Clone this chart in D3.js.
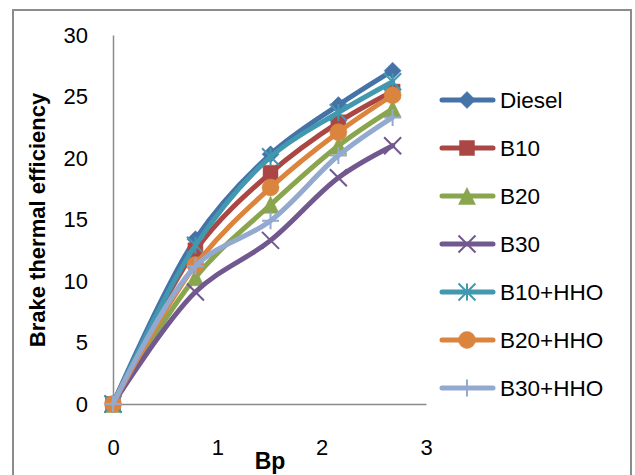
<!DOCTYPE html>
<html>
<head>
<meta charset="utf-8">
<script src="https://cdn.jsdelivr.net/npm/d3@7"></script>
<style>
  body { margin: 0; background: #fff; }
  svg { display: block; font-family: "Liberation Sans", Arial, sans-serif; }
  .axis .domain { stroke: #8a8a8a; stroke-width: 1.5; }
  .axis text { font-size: 22px; fill: #000; }
</style>
</head>
<body>
<div id="chart"></div>
<script>
// Brake thermal efficiency vs brake power, one series per fuel blend

var bp = [0, 0.79, 1.51, 2.16, 2.68];

var seriesNames = ["Diesel", "B10", "B20", "B30", "B10+HHO", "B20+HHO", "B30+HHO"];

var diesel  = [0, 13.4, 20.3, 24.3, 27.1];
var b10     = [0, 12.5, 18.8, 22.9, 25.4];
var b20     = [0, 10.3, 16.2, 21.0, 24.0];
var b30     = [0, 9.1, 13.3, 18.4, 21.0];
var b10hho  = [0, 12.9, 20.1, 23.7, 26.2];
var b20hho  = [0, 11.3, 17.6, 22.1, 25.1];
var b30hho  = [0, 11.2, 14.9, 20.2, 23.3];

var xTicks = [0, 1, 2, 3];
var yTicks = [0, 5, 10, 15, 20, 25, 30];

var allValues = [diesel, b10, b20, b30, b10hho, b20hho, b30hho];
var colors = ["#4572a7", "#aa4643", "#89a54e", "#71588f", "#4198af", "#db843d", "#93a9cf"];
var shapes = ["diamond", "square", "triangle", "x", "star", "circle", "plus"];

var width = 635, height = 475;

var svg = d3.select("#chart")
  .append("svg")
  .attr("width", width)
  .attr("height", height);

svg.append("rect")
  .attr("width", width)
  .attr("height", height)
  .attr("fill", "#fff");

// outer chart frame (runs off the bottom)
svg.append("rect")
  .attr("x", 13)
  .attr("y", 10)
  .attr("width", 618)
  .attr("height", 520)
  .attr("fill", "none")
  .attr("stroke", "#8c8c8c")
  .attr("stroke-width", 2);

var x = d3.scaleLinear().domain([0, 3]).range([113, 426]);
var y = d3.scaleLinear().domain([0, 30]).range([404, 35]);

svg.append("g")
  .attr("class", "axis")
  .attr("transform", "translate(0," + y(0) + ")")
  .call(d3.axisBottom(x).tickValues(xTicks).tickSize(0).tickPadding(35).tickFormat(d3.format("d")));

svg.append("g")
  .attr("class", "axis")
  .attr("transform", "translate(" + x(0) + ",0)")
  .call(d3.axisLeft(y).tickValues(yTicks).tickSize(0).tickPadding(25));

// marker shapes
function marker(shape, s) {
  var h = s / 2;
  switch (shape) {
    case "diamond": return "M0," + (-h) + "L" + h + ",0L0," + h + "L" + (-h) + ",0Z";
    case "square": h = s * 0.44; return "M" + (-h) + "," + (-h) + "H" + h + "V" + h + "H" + (-h) + "Z";
    case "triangle": return "M0," + (-h) + "L" + h + "," + h + "L" + (-h) + "," + h + "Z";
    case "x": return "M" + (-h) + "," + (-h) + "L" + h + "," + h + "M" + (-h) + "," + h + "L" + h + "," + (-h);
    case "star": return "M" + (-h) + "," + (-h) + "L" + h + "," + h + "M" + (-h) + "," + h + "L" + h + "," + (-h) + "M0," + (-h) + "V" + h;
    case "circle": return d3.symbol(d3.symbolCircle, Math.PI * h * h)();
    case "plus": return "M0," + (-h) + "V" + h + "M" + (-h) + ",0H" + h;
  }
}

function drawMarker(g, shape, color, cx, cy) {
  var stroked = shape === "x" || shape === "star" || shape === "plus";
  g.append("path")
    .attr("transform", "translate(" + cx + "," + cy + ")")
    .attr("d", marker(shape, 17))
    .attr("fill", stroked ? "none" : color)
    .attr("stroke", color)
    .attr("stroke-width", stroked ? 2 : 0.5);
}

var line = d3.line()
  .x(function(d) { return x(d[0]); })
  .y(function(d) { return y(d[1]); })
  .curve(d3.curveCatmullRom.alpha(0.5));

allValues.forEach(function(vals, i) {
  var pts = bp.map(function(b, j) { return [b, vals[j]]; });
  var g = svg.append("g");
  g.append("path")
    .datum(pts)
    .attr("d", line)
    .attr("fill", "none")
    .attr("stroke", colors[i])
    .attr("stroke-width", 5)
    .attr("stroke-linecap", "round")
    .attr("stroke-linejoin", "round");
  pts.forEach(function(p) {
    drawMarker(g, shapes[i], colors[i], x(p[0]), y(p[1]));
  });
});

// legend
var legend = svg.append("g");
seriesNames.forEach(function(name, i) {
  var ly = 100 + i * 48;
  legend.append("line")
    .attr("x1", 442).attr("x2", 493)
    .attr("y1", ly).attr("y2", ly)
    .attr("stroke", colors[i])
    .attr("stroke-width", 5)
    .attr("stroke-linecap", "round");
  drawMarker(legend, shapes[i], colors[i], 467, ly);
  legend.append("text")
    .attr("x", 500)
    .attr("y", ly)
    .attr("dy", "0.36em")
    .attr("font-size", 22.5)
    .text(name);
});

// axis titles
svg.append("text")
  .attr("transform", "translate(45,220) rotate(-90)")
  .attr("text-anchor", "middle")
  .attr("font-size", 22)
  .attr("font-weight", "bold")
  .text("Brake thermal efficiency");

svg.append("text")
  .attr("x", 270)
  .attr("y", 469)
  .attr("text-anchor", "middle")
  .attr("font-size", 23)
  .attr("font-weight", "bold")
  .text("Bp");
</script>
</body>
</html>
